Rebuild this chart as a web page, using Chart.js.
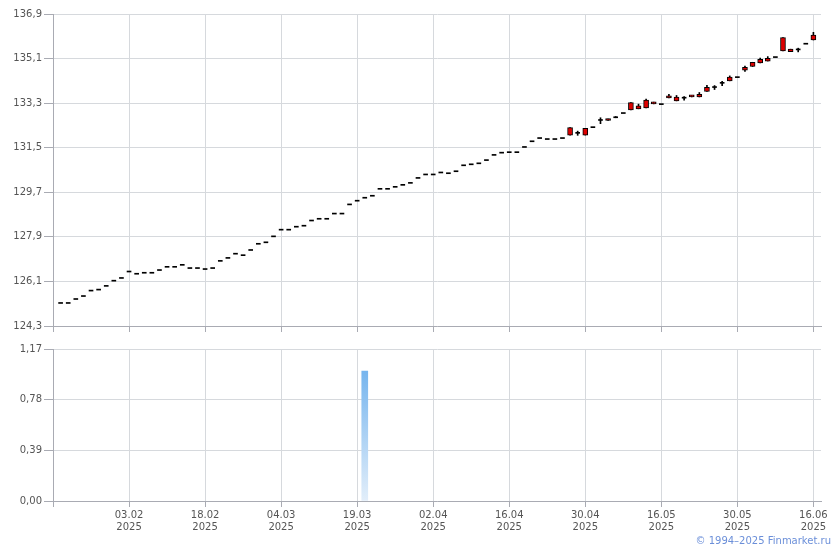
<!DOCTYPE html>
<html>
<head>
<meta charset="utf-8">
<script src="https://cdn.jsdelivr.net/npm/chart.js@4.4.1/dist/chart.umd.min.js"></script>
<style>
    html, body { margin: 0; padding: 0; background: #fff; }
    #wrap { position: relative; width: 840px; height: 550px; }
    #priceChart { position: absolute; left: 0; top: 0; }
    #volChart { position: absolute; left: 0; top: 340px; }
    #copy { position: absolute; right: 9px; top: 535px; font: 10px 'DejaVu Sans'; color: #6b8fd9; white-space: nowrap; }
</style>
</head>
<body>
<div id="wrap">
    <canvas id="priceChart" width="840" height="340"></canvas>
    <canvas id="volChart" width="840" height="210"></canvas>
    <div id="copy">© 1994–2025 Finmarket.ru</div>
</div>
<script>
// trading days shown on the chart (year 2025)
const year = '2025';
const axisStart = '20.01';
const axisEnd = '17.06';
const dates = [
    '21.01','22.01','23.01','24.01','27.01','28.01','29.01','30.01','31.01','03.02',
    '04.02','05.02','06.02','07.02','10.02','11.02','12.02','13.02','14.02','18.02',
    '19.02','20.02','21.02','24.02','25.02','26.02','27.02','28.02','03.03','04.03',
    '05.03','06.03','07.03','11.03','12.03','13.03','14.03','17.03','18.03','19.03',
    '20.03','21.03','24.03','25.03','26.03','27.03','28.03','31.03','01.04','02.04',
    '03.04','04.04','07.04','08.04','09.04','10.04','11.04','14.04','15.04','16.04',
    '17.04','18.04','21.04','22.04','23.04','24.04','25.04','28.04','29.04','30.04',
    '02.05','05.05','06.05','07.05','08.05','12.05','13.05','14.05','15.05','16.05',
    '19.05','20.05','21.05','22.05','23.05','26.05','27.05','28.05','29.05','30.05',
    '02.06','03.06','04.06','05.06','06.06','09.06','10.06','11.06','13.06','16.06'
];

// price: open / high / low / close
const open = [
    125.21,125.21,125.37,125.49,125.71,125.75,125.90,126.11,126.22,126.48,
    126.39,126.43,126.43,126.54,126.67,126.67,126.75,126.62,126.62,126.58,
    126.62,126.91,127.03,127.20,127.14,127.35,127.60,127.66,127.90,128.17,
    128.17,128.29,128.33,128.54,128.61,128.61,128.82,128.82,129.19,129.34,
    129.46,129.54,129.82,129.82,129.90,129.98,130.06,130.26,130.40,130.40,
    130.48,130.45,130.53,130.77,130.81,130.85,130.98,131.19,131.28,131.30,
    131.30,131.51,131.74,131.87,131.83,131.83,131.87,132.01,132.08,132.01,
    132.31,132.60,132.60,132.71,132.88,133.03,133.07,133.11,133.27,133.24,
    133.51,133.39,133.50,133.55,133.55,133.77,133.93,134.10,134.20,134.33,
    134.63,134.78,134.92,135.00,135.14,135.41,135.38,135.45,135.68,135.85
];
const high = [
    125.21,125.21,125.37,125.49,125.71,125.75,125.90,126.11,126.22,126.48,
    126.39,126.43,126.43,126.54,126.67,126.67,126.75,126.62,126.62,126.58,
    126.62,126.91,127.03,127.20,127.14,127.35,127.60,127.66,127.90,128.17,
    128.17,128.29,128.33,128.54,128.61,128.61,128.82,128.82,129.19,129.34,
    129.46,129.54,129.82,129.82,129.90,129.98,130.06,130.26,130.40,130.40,
    130.48,130.45,130.53,130.77,130.81,130.85,130.98,131.19,131.28,131.30,
    131.30,131.51,131.74,131.87,131.83,131.83,131.87,132.31,132.17,132.28,
    132.31,132.71,132.66,132.76,132.88,133.32,133.26,133.46,133.34,133.24,
    133.66,133.61,133.57,133.61,133.73,134.02,134.01,134.18,134.40,134.33,
    134.80,134.95,135.12,135.18,135.14,135.95,135.48,135.52,135.68,136.16
];
const low = [
    125.21,125.21,125.37,125.49,125.71,125.75,125.90,126.11,126.22,126.48,
    126.39,126.43,126.43,126.54,126.67,126.67,126.75,126.62,126.62,126.58,
    126.62,126.91,127.03,127.20,127.14,127.35,127.60,127.66,127.90,128.17,
    128.17,128.29,128.33,128.54,128.61,128.61,128.82,128.82,129.19,129.34,
    129.46,129.54,129.82,129.82,129.90,129.98,130.06,130.26,130.40,130.40,
    130.48,130.45,130.53,130.77,130.81,130.85,130.98,131.19,131.28,131.30,
    131.30,131.51,131.74,131.87,131.83,131.83,131.87,132.01,132.00,132.01,
    132.31,132.47,132.60,132.71,132.88,133.03,133.07,133.11,133.27,133.24,
    133.51,133.39,133.42,133.55,133.55,133.77,133.85,134.01,134.20,134.33,
    134.58,134.78,134.92,135.00,135.14,135.41,135.38,135.37,135.68,135.85
];
const close = [
    125.21,125.21,125.37,125.49,125.71,125.75,125.90,126.11,126.22,126.48,
    126.39,126.43,126.43,126.54,126.67,126.67,126.75,126.62,126.62,126.58,
    126.62,126.91,127.03,127.20,127.14,127.35,127.60,127.66,127.90,128.17,
    128.17,128.29,128.33,128.54,128.61,128.61,128.82,128.82,129.19,129.34,
    129.46,129.54,129.82,129.82,129.90,129.98,130.06,130.26,130.40,130.40,
    130.48,130.45,130.53,130.77,130.81,130.85,130.98,131.19,131.28,131.30,
    131.30,131.51,131.74,131.87,131.83,131.83,131.87,132.31,132.08,132.28,
    132.31,132.60,132.66,132.71,132.88,133.32,133.19,133.42,133.34,133.24,
    133.58,133.54,133.50,133.61,133.66,133.94,133.93,134.10,134.35,134.33,
    134.75,134.95,135.07,135.11,135.14,135.95,135.48,135.45,135.68,136.05
];

// volume
const volume = [
    0,0,0,0,0,0,0,0,0,0,
    0,0,0,0,0,0,0,0,0,0,
    0,0,0,0,0,0,0,0,0,0,
    0,0,0,0,0,0,0,0,0,0,
    1.0,0,0,0,0,0,0,0,0,0,
    0,0,0,0,0,0,0,0,0,0,
    0,0,0,0,0,0,0,0,0,0,
    0,0,0,0,0,0,0,0,0,0,
    0,0,0,0,0,0,0,0,0,0,
    0,0,0,0,0,0,0,0,0,0
];

const priceTicks = { min: 124.3, max: 136.9, step: 1.8 };
const volTicks = { min: 0, max: 1.17, step: 0.39 };

Chart.defaults.font.family = 'DejaVu Sans';
Chart.defaults.font.size = 10;
Chart.defaults.color = '#555';
Chart.defaults.animation = false;

const gridColor = '#d6d9dd';
const axisColor = '#a9abb3';
const labels = [axisStart, ...dates, axisEnd];

// pad data with empty slots for the axis start/end days
function pad(arr) {
    return [null, ...arr, null];
}

function xScale(showLabels, height) {
    return {
        type: 'category',
        offset: false,
        grid: {
            offset: false,
            color: ctx => ctx.index % 10 === 0 ? gridColor : 'transparent',
            tickColor: ctx => ctx.index % 10 === 0 && ctx.index <= 100 ? axisColor : 'transparent',
            tickLength: 6
        },
        border: { color: axisColor },
        ticks: {
            display: showLabels,
            autoSkip: false,
            maxRotation: 0,
            minRotation: 0,
            padding: 2,
            callback: (val, i) => (i % 10 === 0 && i > 0 && i <= 100) ? [labels[i], year] : ''
        },
        afterFit: scale => { scale.height = height; }
    };
}

function yScale(range, digits) {
    return {
        min: range.min,
        max: range.max,
        grid: { color: gridColor, tickColor: axisColor, tickLength: 9 },
        border: { color: axisColor },
        ticks: {
            stepSize: range.step,
            padding: 2,
            callback: v => v.toFixed(digits).replace('.', ',')
        },
        afterFit: scale => { scale.width = 53; }
    };
}

// candle parts
const wicks = pad(high.map((h, i) => h > low[i] ? [low[i], h] : null));
const bodies = pad(open.map((o, i) => o !== close[i] ? [o, close[i]] : null));
const dashes = pad(open.map((o, i) => o === close[i] ? [o, o] : null));

new Chart(document.querySelector('#priceChart'), {
    type: 'bar',
    data: {
        labels: labels,
        datasets: [{
            data: wicks,
            backgroundColor: '#000',
            barThickness: 1,
            grouped: false,
            order: 3
        }, {
            data: dashes,
            backgroundColor: '#000',
            barThickness: 4,
            minBarLength: 1,
            grouped: false,
            order: 2
        }, {
            data: bodies,
            backgroundColor: '#dd0000',
            borderColor: '#000',
            borderWidth: 1,
            borderSkipped: false,
            barThickness: 5,
            minBarLength: 2,
            grouped: false,
            order: 1
        }]
    },
    options: {
        responsive: false,
        layout: { padding: { top: 14, right: 19, left: 0, bottom: 0 } },
        plugins: { legend: { display: false }, tooltip: { enabled: false } },
        scales: {
            x: xScale(false, 14),
            y: yScale(priceTicks, 1)
        }
    }
});

new Chart(document.querySelector('#volChart'), {
    type: 'bar',
    data: {
        labels: labels,
        datasets: [{
            // days without volume are left empty
            data: pad(volume.map(v => v > 0 ? v : null)),
            barThickness: 6,
            backgroundColor: ctx => {
                const chart = ctx.chart;
                const v = ctx.parsed ? ctx.parsed.y : null;
                if (!chart.chartArea || !Number.isFinite(v) || v <= 0) return 'transparent';
                const y = chart.scales.y;
                const g = chart.ctx.createLinearGradient(0, y.getPixelForValue(v), 0, y.getPixelForValue(0));
                g.addColorStop(0, '#76b5ee');
                g.addColorStop(1, '#e2eefa');
                return g;
            }
        }]
    },
    options: {
        responsive: false,
        layout: { padding: { top: 9, right: 19, left: 0, bottom: 0 } },
        plugins: { legend: { display: false }, tooltip: { enabled: false } },
        scales: {
            x: xScale(true, 49),
            y: yScale(volTicks, 2)
        }
    }
});
</script>
</body>
</html>
